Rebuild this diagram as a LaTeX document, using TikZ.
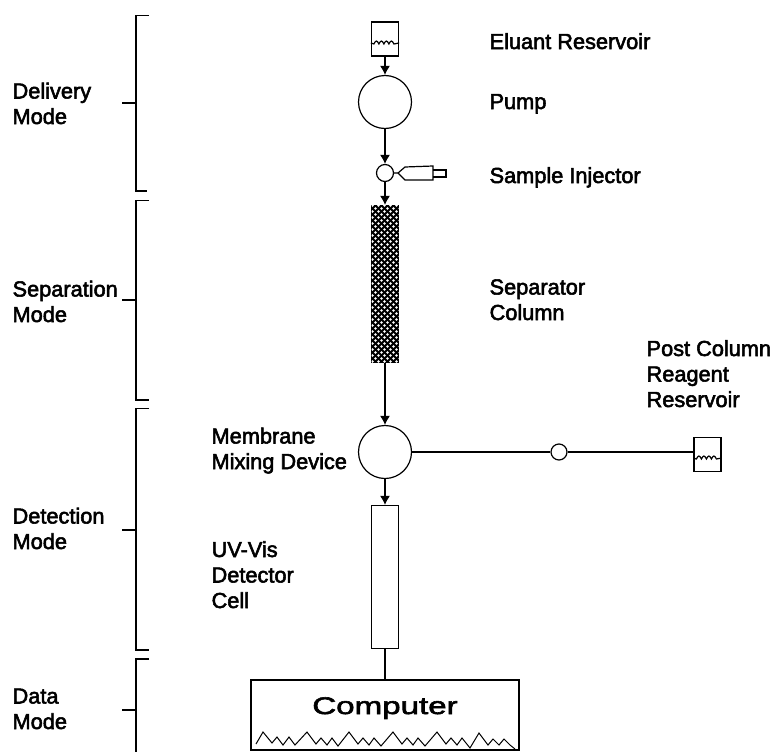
\documentclass[tikz,border=0pt]{standalone}
\usepackage{fontspec}
\setmainfont[FakeBold=2.5]{Liberation Sans}
\newfontfamily\widefont[FakeBold=2.5,FakeStretch=1.38]{Liberation Sans}
\usetikzlibrary{arrows.meta,positioning,patterns}
\pgfdeclarepatternformonly{columndots}{\pgfqpoint{-1pt}{-1pt}}{\pgfqpoint{6pt}{6pt}}{\pgfqpoint{6pt}{6pt}}{
  \pgfpathcircle{\pgfqpoint{0.5pt}{0.5pt}}{1.3pt}
  \pgfpathcircle{\pgfqpoint{3.5pt}{3.5pt}}{1.3pt}
  \pgfusepath{fill}
}

\begin{document}
\begin{tikzpicture}[
  x=1pt, y=-1pt,
  line width=1.2pt,
  device/.style={draw, circle, inner sep=0pt, minimum size=53pt},
  valve/.style={draw, circle, inner sep=0pt, minimum size=17pt},
  vessel/.style={draw, inner sep=0pt, minimum width=27pt, minimum height=34pt},
  tube/.style={draw, inner sep=0pt, minimum width=27pt},
  label/.style={align=left, anchor=base west, inner sep=0pt, font=\fontsize{21.75}{25.5}\selectfont},
  arrow/.style={-{Latex[length=9pt,width=10pt]}},
  brace/.style={line width=1.3pt}
]
\useasboundingbox (0,0) rectangle (773,752);
\node[vessel] (eluant) at (385,39) {};
\node[device] (pump) at (385,102) {};
\node[valve] (injector) at (385,173) {};
\node[tube, minimum height=157pt, fill=black, postaction={pattern=columndots, pattern color=white}] (column) at (385,284) {};
\node[device] (mixer) at (385,452) {};
\node[tube, minimum height=143pt] (detector) at (385,577) {};
\node[draw, inner sep=0pt, minimum width=268pt, minimum height=70pt] (computer) at (385,715) {};
\node[font=\fontsize{24}{26}\widefont, inner sep=0pt, anchor=base] (computertext) at (385,714) {Computer};
\node[valve, minimum size=16pt] (postvalve) at (559,452) {};
\node[vessel] (postreservoir) at (707.5,454.5) {};
% devices in line
\draw[arrow] (eluant) -- (pump);
\draw[arrow] (pump) -- (injector);
\draw[arrow] (injector) -- (column);
\draw[arrow] (column) -- (mixer);
\draw[arrow] (mixer) -- (detector);
\draw (detector) -- (computer);
\draw (mixer) -- (postvalve);
\draw (postvalve) -- (postreservoir.west |- postvalve);
% liquid level
\draw (eluant.west |- 0,43) -- ++(3,1) sin ++(2.5,-3) cos ++(2.5,3) sin ++(2.5,-3) cos ++(2.5,3) sin ++(2.5,-3) cos ++(2.5,3) sin ++(2.5,-3) cos ++(2.5,3) -- (eluant.east |- 0,43);
\draw (postreservoir.west |- 0,458) -- ++(3,1) sin ++(2.5,-3) cos ++(2.5,3) sin ++(2.5,-3) cos ++(2.5,3) sin ++(2.5,-3) cos ++(2.5,3) sin ++(2.5,-3) cos ++(2.5,3) -- (postreservoir.east |- 0,458);
% syringe
\draw (injector.east) -- (398,173) -- (405,167) -- (433,166) -- (433,180) -- (405,180) -- (398,173);
\draw (433,170) -- (446,170) -- (446,177) -- (433,177);
% trace
\draw[line width=1pt] (256,744) -- (263,732) -- (272,743) -- (277,737) -- (283,745) -- (289,737) -- (295,745) -- (307,732) -- (316,744) -- (321,738) -- (327,745) -- (332,738) -- (338,746) -- (349,732) -- (358,744) -- (363,738) -- (369,745) -- (374,738) -- (381,746) -- (393,732) -- (402,744) -- (407,738) -- (413,745) -- (418,738) -- (425,746) -- (437,732) -- (446,744) -- (451,738) -- (457,745) -- (462,738) -- (470,748) -- (479,733) -- (488,745) -- (493,739) -- (499,745) -- (504,739) -- (510,745) -- (515,749);
% mode brackets
\draw[brace] (149,15.5) -- (136,15.5) -- (136,191) -- (147,191);
\draw[brace] (122,103) -- (136,103);
\draw[brace] (149,200.5) -- (136,200.5) -- (136,400) -- (149,400);
\draw[brace] (122,300) -- (136,300);
\draw[brace] (149,408.5) -- (136,408.5) -- (136,650) -- (149,650);
\draw[brace] (122,530) -- (136,530);
\draw[brace] (149,659) -- (136,659) -- (136,752);
\draw[brace] (122,710) -- (136,710);
% labels
\node[label] (delivery) at (12,124) {Delivery\\Mode};
\node[label] (separation) at (12,322) {Separation\\Mode};
\node[label] (detection) at (12,549) {Detection\\Mode};
\node[label] (data) at (12,729) {Data\\Mode};
\node[label] (eluanttext) at (489,49) {Eluant Reservoir};
\node[label] (pumptext) at (489,109) {Pump};
\node[label] (injectortext) at (489,183) {Sample Injector};
\node[label] (columntext) at (489,320) {Separator\\Column};
\node[label] (posttext) at (646,407) {Post Column\\Reagent\\Reservoir};
\node[label] (mixertext) at (211,469) {Membrane\\Mixing Device};
\node[label] (detectortext) at (211,608) {UV-Vis\\Detector\\Cell};
\end{tikzpicture}
\end{document}
